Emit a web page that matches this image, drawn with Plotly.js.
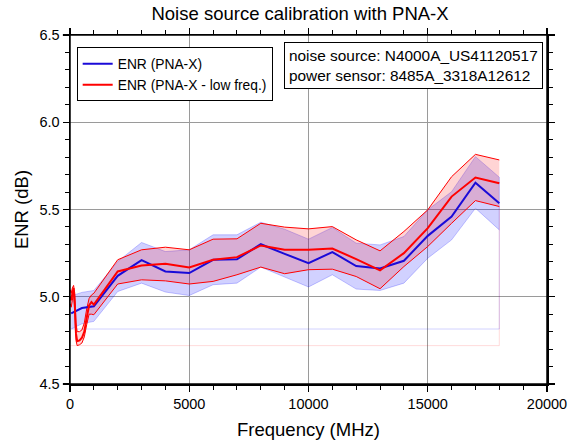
<!DOCTYPE html>
<html>
<head>
<meta charset="utf-8">
<script src="https://cdn.plot.ly/plotly-3.0.1.min.js"></script>
<style>html,body{margin:0;padding:0;background:#fff;}#chart{width:577px;height:445px;}</style>
</head>
<body>
<div id="chart"></div>
<script>
// ENR (PNA-X)
const freqPNA = [50, 500, 1000, 2000, 3000, 4000, 5000, 6000, 7000, 8000, 9000, 10000, 11000, 12000, 13000, 14000, 15000, 16000, 17000, 18000];
const enrPNA = [4.905, 4.935, 4.945, 5.120, 5.210, 5.145, 5.136, 5.212, 5.215, 5.301, 5.246, 5.193, 5.256, 5.176, 5.162, 5.206, 5.349, 5.459, 5.654, 5.536];
const enrPNAHigh = [5.005, 5.025, 5.036, 5.202, 5.311, 5.259, 5.269, 5.355, 5.355, 5.427, 5.387, 5.330, 5.397, 5.307, 5.297, 5.345, 5.498, 5.602, 5.803, 5.685];
const enrPNALow = [4.815, 4.845, 4.859, 5.030, 5.078, 5.027, 5.007, 5.069, 5.078, 5.170, 5.113, 5.056, 5.126, 5.044, 5.036, 5.078, 5.221, 5.326, 5.507, 5.383];

// ENR (PNA-X - low freq.)
const freqLF = [10, 50, 100, 150, 200, 250, 300, 400, 500, 600, 700, 800, 900, 1000, 2000, 3000, 4000, 5000, 6000, 7000, 8000, 9000, 10000, 11000, 12000, 13000, 14000, 15000, 16000, 17000, 18000];
const enrLF = [5.00, 4.98, 5.02, 5.05, 4.96, 4.79, 4.745, 4.75, 4.765, 4.80, 4.88, 4.95, 4.97, 4.955, 5.145, 5.179, 5.189, 5.168, 5.212, 5.227, 5.294, 5.269, 5.269, 5.276, 5.216, 5.151, 5.250, 5.393, 5.574, 5.683, 5.650];
const enrLFHigh = [5.04, 5.02, 5.05, 5.065, 5.02, 4.85, 4.80, 4.80, 4.81, 4.85, 4.93, 4.99, 5.01, 5.02, 5.212, 5.269, 5.284, 5.269, 5.330, 5.332, 5.421, 5.399, 5.389, 5.402, 5.326, 5.263, 5.374, 5.498, 5.688, 5.816, 5.784];
const enrLFLow = [4.96, 4.94, 4.98, 5.03, 4.91, 4.75, 4.72, 4.725, 4.735, 4.77, 4.84, 4.90, 4.90, 4.897, 5.073, 5.097, 5.091, 5.073, 5.088, 5.126, 5.170, 5.132, 5.155, 5.158, 5.116, 5.046, 5.173, 5.288, 5.421, 5.551, 5.517];

const legendNames = ['ENR (PNA-X)', 'ENR (PNA-X - low freq.)'];
const titleText = 'Noise source calibration with PNA-X';
const xTitle = 'Frequency (MHz)';
const yTitle = 'ENR (dB)';
const infoLines = ['noise source: N4000A_US41120517', 'power sensor: 8485A_3318A12612'];

function band(x, hi, lo) {
  return { x: x.concat(x.slice().reverse()), y: hi.concat(lo.slice().reverse()) };
}
function closing(x, lo) {
  const m = Math.min.apply(null, lo);
  const xm = x[lo.indexOf(m)];
  const n = x.length - 1;
  return { x: [x[n], x[n], xm, x[0]], y: [lo[n], m, m, m] };
}

const bB = band(freqPNA, enrPNAHigh, enrPNALow);
const bR = band(freqLF, enrLFHigh, enrLFLow);
const cB = closing(freqPNA, enrPNALow);
const cR = closing(freqLF, enrLFLow);

const font = 'Liberation Sans, Arial, sans-serif';

const traces = [
  { x: bB.x, y: bB.y, fill: 'toself', fillcolor: 'rgba(0,0,255,0.18)', mode: 'lines',
    line: { color: 'rgba(0,0,255,0.22)', width: 1 }, showlegend: false, hoverinfo: 'skip' },
  { x: cB.x, y: cB.y, mode: 'lines', line: { color: 'rgba(0,0,255,0.18)', width: 1 }, showlegend: false, hoverinfo: 'skip' },
  { x: cR.x, y: cR.y, mode: 'lines', line: { color: 'rgba(255,0,0,0.14)', width: 1 }, showlegend: false, hoverinfo: 'skip' },
  { x: bR.x, y: bR.y, fill: 'toself', fillcolor: 'rgba(255,0,0,0.17)', mode: 'lines',
    line: { color: 'rgba(255,0,0,0)', width: 0 }, showlegend: false, hoverinfo: 'skip' },
  { x: freqLF, y: enrLFHigh, mode: 'lines', line: { color: '#ff0000', width: 1 }, showlegend: false },
  { x: freqLF, y: enrLFLow, mode: 'lines', line: { color: '#ff0000', width: 1 }, showlegend: false },
  { x: freqPNA, y: enrPNA, mode: 'lines', name: legendNames[0], line: { color: '#1a0ad8', width: 2 } },
  { x: freqLF, y: enrLF, mode: 'lines', name: legendNames[1], line: { color: '#ff0000', width: 2 } }
];

const axisCommon = {
  showline: true, linecolor: '#000', linewidth: 1.5, mirror: 'allticks',
  ticks: 'outside', ticklen: 6, tickwidth: 1.3, tickcolor: '#000',
  showgrid: true, gridcolor: '#9a9a9a', gridwidth: 1.2, zeroline: false,
  tickfont: { family: font, size: 14.5, color: '#000' }
};

const layout = {
  width: 577, height: 445,
  margin: { l: 70, r: 30, t: 35, b: 61, pad: 0 },
  paper_bgcolor: '#fff', plot_bgcolor: '#fff',
  font: { family: font, color: '#000' },
  title: { text: titleText, font: { family: font, size: 18.5, color: '#000' },
           x: 0.52, xanchor: 'center', y: 1 - 14 / 445, yanchor: 'middle', yref: 'container' },
  xaxis: Object.assign({}, axisCommon, {
    range: [0, 20000], dtick: 5000, tickformat: 'd',
    minor: { dtick: 1000, ticks: 'outside', ticklen: 4, tickwidth: 1, tickcolor: '#000', showgrid: false },
    title: { text: xTitle, font: { family: font, size: 18.5, color: '#000' }, standoff: 12 }
  }),
  yaxis: Object.assign({}, axisCommon, {
    range: [4.5, 6.5], dtick: 0.5, tickformat: '.1f',
    minor: { dtick: 0.1, ticks: 'outside', ticklen: 4, tickwidth: 1, tickcolor: '#000', showgrid: false },
    title: { text: yTitle, font: { family: font, size: 18.5, color: '#000' }, standoff: 6 }
  }),
  showlegend: true,
  legend: {
    x: 0.014, y: 0.965, xanchor: 'left', yanchor: 'top',
    bgcolor: '#fff', bordercolor: '#000', borderwidth: 1,
    font: { family: font, size: 13.8, color: '#000' },
    tracegroupgap: 0, itemwidth: 30
  },
  annotations: [{
    xref: 'paper', yref: 'paper', x: 0.992, y: 0.979, xanchor: 'right', yanchor: 'top',
    text: infoLines.join('<br>'), showarrow: false, align: 'left',
    font: { family: font, size: 15.4, color: '#000' },
    bgcolor: '#fff', bordercolor: '#000', borderwidth: 1, borderpad: 4
  }],
  shapes: [
    { type: 'line', xref: 'paper', yref: 'paper', x0: -0.015, x1: 1.015, y0: 1, y1: 1, line: { color: '#000', width: 1.5 } },
    { type: 'line', xref: 'paper', yref: 'paper', x0: -0.015, x1: 1.015, y0: 0, y1: 0, line: { color: '#000', width: 1.5 } },
    { type: 'line', xref: 'paper', yref: 'paper', x0: 0, x1: 0, y0: -0.02, y1: 1.02, line: { color: '#000', width: 1.5 } },
    { type: 'line', xref: 'paper', yref: 'paper', x0: 1, x1: 1, y0: -0.02, y1: 1.02, line: { color: '#000', width: 1.5 } }
  ]
};

Plotly.newPlot('chart', traces, layout, { displayModeBar: false, staticPlot: true });
</script>
</body>
</html>
